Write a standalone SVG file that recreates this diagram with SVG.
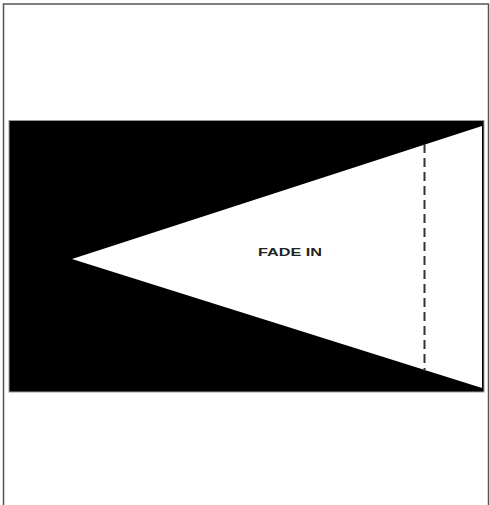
<svg xmlns="http://www.w3.org/2000/svg" width="490" height="505" viewBox="0 0 490 505">
<style>
.frame{fill:#fff;stroke:#555;stroke-width:1.5}
.lbl{font-family:"Liberation Sans",Arial,sans-serif;font-weight:bold;font-size:10px;fill:#222}
</style>
<rect class="frame" x="3.5" y="4" width="485" height="520"/>
<g id="background">
<rect x="9" y="120.5" width="475" height="271.5" fill="#000" stroke="#999" stroke-width="1"/>
</g>
<g id="fade-triangle">
<polygon points="72,259 482,126 482,388" fill="#fff"/>
</g>
<g id="connectors">
<line x1="424.5" y1="144" x2="424.5" y2="371" stroke="#333" stroke-width="2" stroke-dasharray="9,5"/>
</g>
<g id="label">
<text class="lbl" x="258" y="256" textLength="64" lengthAdjust="spacingAndGlyphs">FADE IN</text>
</g>
</svg>
